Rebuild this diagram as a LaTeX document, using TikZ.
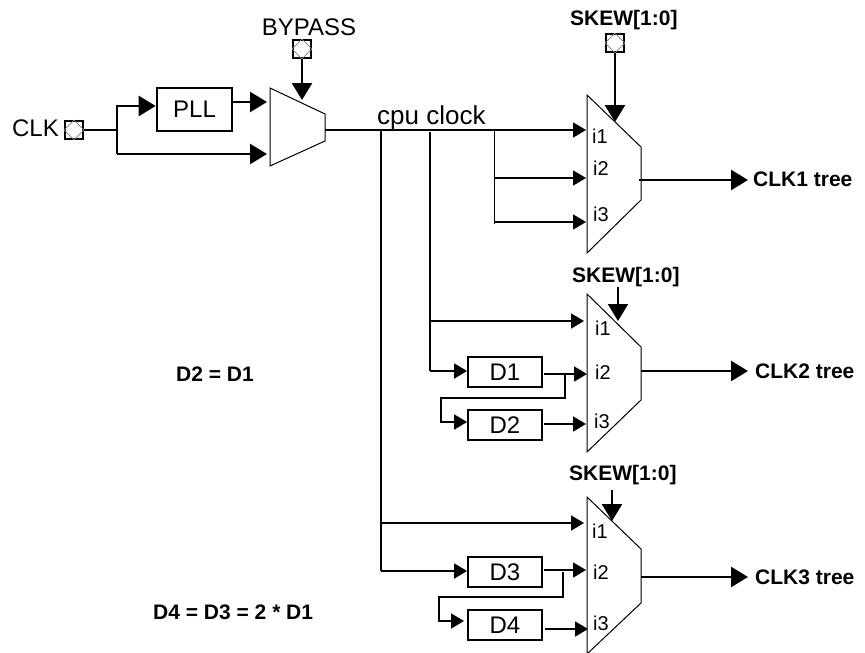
\documentclass[tikz,border=0pt]{standalone}
\usepackage{fontspec}
\setmainfont{Liberation Sans}
\usetikzlibrary{arrows.meta}
\tikzset{
  thick line/.style={line width=2.6pt, -{Triangle[length=17pt,width=20pt]}, line join=miter},
  wire/.style={line width=1.8pt, -{Triangle[length=13pt,width=15pt]}, line join=miter},
  plain wire/.style={line width=1.8pt},
  mux/.style={draw=black, line width=1pt, fill=white, line join=miter},
  pad/.style={draw=black, line width=1.8pt, minimum size=18pt, inner sep=0pt, fill=white},
  delaybox/.style={draw=black, line width=1.8pt, minimum width=74pt, minimum height=30pt, inner sep=0pt, font=\fontsize{24}{26}\selectfont},
  big/.style={font=\fontsize{24}{26}\selectfont, inner sep=0pt},
  bold/.style={font=\fontsize{21}{23}\selectfont\bfseries, inner sep=0pt},
  pin/.style={font=\fontsize{20}{22}\selectfont, inner sep=0pt}
}
\newcommand{\paddiamond}[1]{\draw[gray, line width=0.8pt] (#1.west) -- (#1.north) -- (#1.east) -- (#1.south) -- cycle;}
\begin{document}
\begin{tikzpicture}[x=1pt,y=-1pt]
\useasboundingbox (0,0) rectangle (865,653);
% pads
\node[pad] (clkpad) at (74,130) {}; \paddiamond{clkpad}
\node[pad] (byppad) at (302,49) {}; \paddiamond{byppad}
\node[pad] (skewpad) at (615,43) {}; \paddiamond{skewpad}
\node[big,anchor=east] (clklbl) at (59,128) {CLK};
\node[big] (byplbl) at (309,27) {BYPASS};
\node[bold,anchor=base west] (sk1) at (570,25) {SKEW[1:0]};
\node[bold,anchor=base west] (sk2) at (572,282) {SKEW[1:0]};
\node[bold,anchor=base west] (sk3) at (569,480) {SKEW[1:0]};
% muxes
\draw[mux] (270,88) -- (325,114) -- (325,141) -- (270,166) -- cycle;
\draw[mux] (587,95) -- (641,147) -- (641,200) -- (587,253) -- cycle;
\draw[mux] (587,294) -- (641,347) -- (641,400) -- (587,452) -- cycle;
\draw[mux] (587,497) -- (641,549) -- (641,603) -- (587,654) -- cycle;
% boxes
\node[delaybox,line width=2.6pt,minimum width=75pt,minimum height=43pt] (pll) at (194.5,109.5) {PLL};
\node[delaybox] (d1) at (505,372) {D1};
\node[delaybox] (d2) at (505,425) {D2};
\node[delaybox] (d3) at (505,572) {D3};
\node[delaybox] (d4) at (505,625) {D4};
% named junctions
\coordinate (cpuend) at (586,130);
\coordinate (v1) at (381,130);
\coordinate (v2) at (430,132);
\coordinate (v3) at (494.5,130);
% CLK input
\draw[line width=2.6pt] (clkpad.east) -- (118,130);
\draw[thick line] (117,154) -- (117,106) -- (pll.west |- 0,106);
\draw[thick line] (117,154) -- (267,154);
\draw[thick line] (pll.east |- 0,102) -- (267,102);
\draw[thick line] (byppad.south) -- (302,100);
% cpu clock
\node[big,font=\fontsize{26}{28}\selectfont,anchor=base west] (cpu) at (377,124) {cpu clock};
\draw[wire] (325,130) -- (cpuend);
\draw[plain wire] (v1) -- (381,571);
\draw[wire] (381,523) -- (584,523);
\draw[wire] (381,571) -- (d3.west |- 0,571);
\draw[plain wire] (v2) -- (430,371);
\draw[wire] (430,321) -- (584,321);
\draw[wire] (430,371) -- (d1.west |- 0,371);
\draw[plain wire] (v3) -- (494.5,224);
\draw[wire] (494,178) -- (586,178);
\draw[wire] (494,222) -- (586,222);
% delay chain 1
\draw[wire] (544,374) -- (587,374);
\draw[wire] (565,374) -- (565,398) -- (441,398) -- (441,422) -- (d2.west |- 0,422);
\draw[wire] (544,424) -- (586,424);
% delay chain 2
\draw[wire] (544,570) -- (586,570);
\draw[wire] (563,572) -- (563,597) -- (439,597) -- (439,621) -- (464,621);
\draw[wire] (545,629) -- (588,629);
% select arrows
\draw[thick line] (skewpad.south) -- (615,122);
\draw[thick line,line width=1.8pt] (618,287) -- (618,321);
\draw[thick line] (612,490) -- (612,521);
% outputs
\draw[thick line] (639,180) -- (748,180);
\draw[thick line] (641,371) -- (748,371);
\draw[thick line] (641,577) -- (748,577);
\node[bold,anchor=west] (t1) at (753,179) {CLK1 tree};
\node[bold,anchor=west] (t2) at (755,371) {CLK2 tree};
\node[bold,anchor=west] (t3) at (755,577) {CLK3 tree};
% input labels
\node[pin] (a1) at (600,136) {i1};
\node[pin] (a2) at (601,168) {i2};
\node[pin] (a3) at (601,214) {i3};
\node[pin] (b1) at (603,328) {i1};
\node[pin] (b2) at (603,372) {i2};
\node[pin] (b3) at (602,421) {i3};
\node[pin] (c1) at (600,531) {i1};
\node[pin] (c2) at (601,572) {i2};
\node[pin] (c3) at (601,623) {i3};
% notes
\node[bold,anchor=west] (n1) at (176,374) {D2 = D1};
\node[bold,anchor=west] (n2) at (153,612) {D4 = D3 = 2 * D1};
\end{tikzpicture}
\end{document}
